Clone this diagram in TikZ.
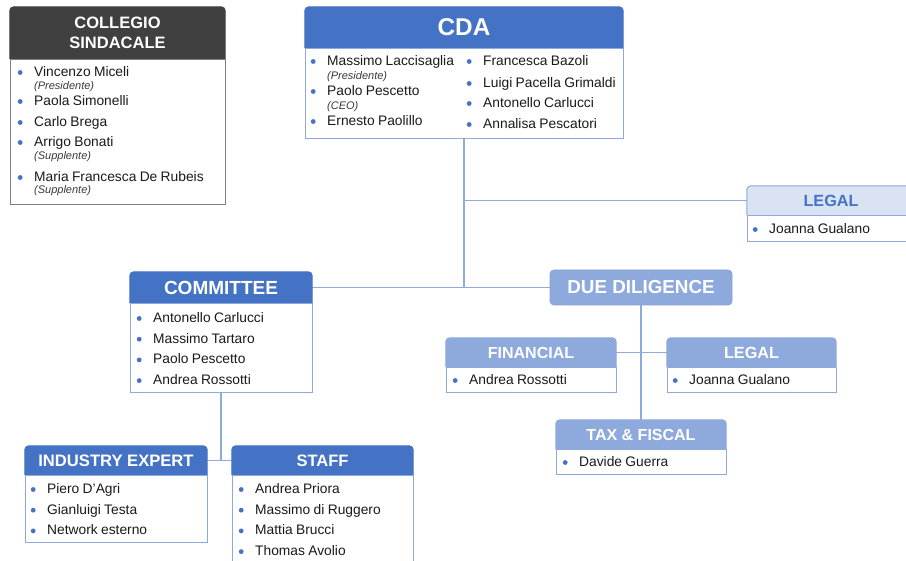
\documentclass[tikz,border=0pt]{standalone}
\usepackage{fontspec}
\setmainfont{Liberation Sans}
\usetikzlibrary{backgrounds}

\definecolor{hdrblue}{HTML}{4472C4}
\definecolor{midblue}{HTML}{8EA9DB}
\definecolor{paleblue}{HTML}{DAE3F3}
\definecolor{darkhdr}{HTML}{404040}
\definecolor{edgegray}{HTML}{7F7F7F}
\definecolor{linkblue}{HTML}{8FAADC}
\definecolor{rolegray}{HTML}{3A3A3A}
\definecolor{bodytext}{HTML}{1A1A1A}

% list entries: a bulleted name, or an italic role under it
\newcommand\bul{\makebox[0pt][c]{\tikz[baseline=0pt]\fill[hdrblue] (0pt,4pt) circle[radius=2.4pt];}\hspace{14pt}}
\newcommand\nm[2][20.7pt]{\fontsize{13.8}{#1}\selectfont\bul\textcolor{bodytext}{#2}\par}
\newcommand\rl[2][14pt]{\fontsize{11}{#1}\selectfont\hspace*{14pt}\textcolor{rolegray}{\itshape #2}\par}
% header band: top corners rounded, bottom square
\newcommand\headbg[3]{\path[fill=#2,draw=#3,line width=1pt,rounded corners=4pt]
  (#1.south west) -- (#1.north west) -- (#1.north east) -- (#1.south east);}

\begin{document}
\begin{tikzpicture}[x=1pt,y=-1pt,
  hdr/.style={inner sep=0pt,text=white,font=\fontsize{#1}{#1}\selectfont\bfseries},
  bodybox/.style={draw=midblue,fill=white,line width=1pt,inner sep=0pt,anchor=north},
  listbox/.style={anchor=base west,inner sep=0pt,text width=230pt,align=left},
  link/.style={draw=linkblue,line width=1.3pt}]
\begin{pgfonlayer}{background}
  \fill[white] (0,0) rectangle (906,561);
\end{pgfonlayer}
\useasboundingbox (0,0) rectangle (906,561);
\clip (0,0) rectangle (906,561);

% ---------- COLLEGIO SINDACALE ----------
\node[hdr=16.5,align=center,minimum width=215,minimum height=52,
  font=\fontsize{16.5}{20}\selectfont\bfseries] (col) at (117.5,33) {COLLEGIO\\SINDACALE};
\node[bodybox,draw=edgegray,minimum width=215,minimum height=145] (colb) at (col.south) {};
\node[listbox] (coll) at (20,76.5) {\nm{Vincenzo Miceli}\rl[13pt]{(Presidente)}%
  \nm[16pt]{Paola Simonelli}\nm[21pt]{Carlo Brega}\nm[20pt]{Arrigo Bonati}%
  \rl[13pt]{(Supplente)}\nm[22pt]{Maria Francesca De Rubeis}\rl[12pt]{(Supplente)}};

% ---------- CDA ----------
\node[hdr=24.3,minimum width=318,minimum height=41] (cda) at (464,27.5) {CDA};
\node[bodybox,minimum width=318,minimum height=90] (cdab) at (cda.south) {};
\node[listbox] (cdal) at (313,65.5) {\nm{Massimo Laccisaglia}\rl{(Presidente)}%
  \nm[16pt]{Paolo Pescetto}\rl{(CEO)}\nm[16pt]{Ernesto Paolillo}};
\node[listbox] (cdar) at (469,65.5) {\nm{Francesca Bazoli}\nm[22pt]{Luigi Pacella Grimaldi}%
  \nm[20pt]{Antonello Carlucci}\nm[21pt]{Annalisa Pescatori}};

% ---------- LEGAL (board level) ----------
\node[hdr=16.2,text=hdrblue,minimum width=168,minimum height=29] (leg) at (831,200.5) {LEGAL};
\node[bodybox,minimum width=168,minimum height=26] (legb) at (leg.south) {};
\node[listbox] (legl) at (755,233.5) {\nm{Joanna Gualano}};

% ---------- COMMITTEE ----------
\node[hdr=19,minimum width=182,minimum height=31] (com) at (221,287.5) {COMMITTEE};
\node[bodybox,minimum width=182,minimum height=89] (comb) at (com.south) {};
\node[listbox] (coml) at (139,322.5) {\nm{Antonello Carlucci}\nm{Massimo Tartaro}%
  \nm{Paolo Pescetto}\nm{Andrea Rossotti}};

% ---------- DUE DILIGENCE ----------
\node[hdr=18.8,fill=midblue,draw=midblue!90!hdrblue,line width=0.8pt,rounded corners=4pt,
  minimum width=182,minimum height=35] (dd) at (641,287.5) {DUE DILIGENCE};

\node[hdr=16,minimum width=170,minimum height=29] (fin) at (531,352.5) {FINANCIAL};
\node[bodybox,minimum width=170,minimum height=25] (finb) at (fin.south) {};
\node[listbox] (finl) at (455,384.5) {\nm{Andrea Rossotti}};

\node[hdr=16.2,minimum width=169,minimum height=29] (ddleg) at (751.5,352.5) {LEGAL};
\node[bodybox,minimum width=169,minimum height=25] (ddlegb) at (ddleg.south) {};
\node[listbox] (ddlegl) at (675,384.5) {\nm{Joanna Gualano}};

\node[hdr=16,minimum width=170,minimum height=29] (tax) at (641,434.5) {TAX \& FISCAL};
\node[bodybox,minimum width=170,minimum height=25] (taxb) at (tax.south) {};
\node[listbox] (taxl) at (565,466.5) {\nm{Davide Guerra}};

% ---------- INDUSTRY EXPERT / STAFF ----------
\node[hdr=16.6,minimum width=182,minimum height=29] (ind) at (116,460.5) {INDUSTRY EXPERT};
\node[bodybox,minimum width=182,minimum height=67] (indb) at (ind.south) {};
\node[listbox] (indl) at (33,493.5) {\nm{Piero D’Agri}\nm{Gianluigi Testa}\nm{Network esterno}};

\node[hdr=16.5,minimum width=181,minimum height=29] (stf) at (322.5,460.5) {STAFF};
\node[bodybox,minimum width=181,minimum height=100] (stfb) at (stf.south) {};
\node[listbox] (stfl) at (241,493.5) {\nm{Andrea Priora}\nm{Massimo di Ruggero}%
  \nm{Mattia Brucci}\nm{Thomas Avolio}};

\begin{pgfonlayer}{background}
  % connectors
  \draw[link] (cdab.south) -- (cdab.south |- com.east);
  \draw[link] (cdab.south |- leg.west) -- (leg.west);
  \draw[link] (com.east) -- (dd.west);
  \draw[link] (dd.south) -- (tax.north);
  \draw[link] (fin.east) -- (ddleg.west);
  \draw[link] (comb.south) -- (comb.south |- ind.east);
  \draw[link] (ind.east) -- (stf.west);
  % header bands
  \headbg{col}{darkhdr}{darkhdr}
  \headbg{cda}{hdrblue}{hdrblue}
  \headbg{leg}{paleblue}{midblue}
  \headbg{com}{hdrblue}{hdrblue}
  \headbg{fin}{midblue}{midblue}
  \headbg{ddleg}{midblue}{midblue}
  \headbg{tax}{midblue}{midblue}
  \headbg{ind}{hdrblue}{hdrblue}
  \headbg{stf}{hdrblue}{hdrblue}
\end{pgfonlayer}
\end{tikzpicture}
\end{document}
